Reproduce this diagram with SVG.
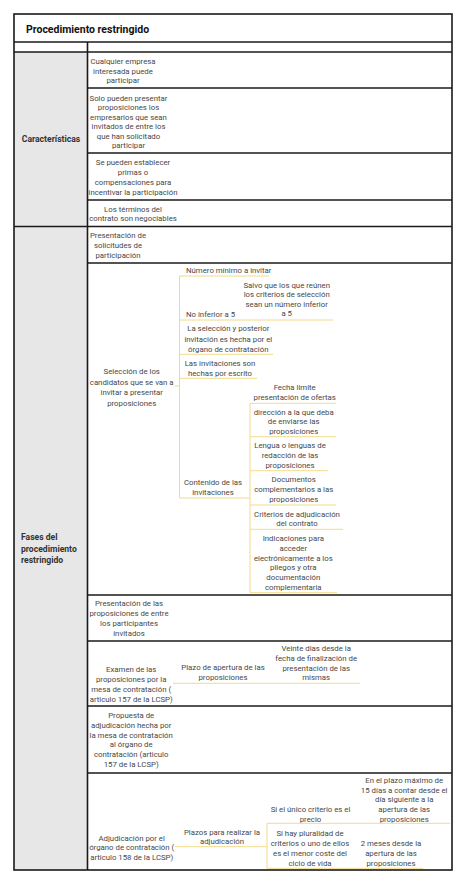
<svg xmlns="http://www.w3.org/2000/svg" width="474" height="893" viewBox="0 0 474 893">
<style>
.bg{fill:#ffffff}
.cell{fill:#e7e7e7}
.ln{stroke:#1a1a1a;stroke-width:1.6;fill:none}
.t{font-family:Roboto,"Liberation Sans",sans-serif;font-size:7.8px;fill:#474747}
.m{text-anchor:middle}
.h{font-family:Roboto,"Liberation Sans",sans-serif;font-size:10.5px;font-weight:bold;fill:#111111}
.b{font-family:Roboto,"Liberation Sans",sans-serif;font-size:8.6px;font-weight:bold;fill:#333333}
.c{stroke:#f3da8a;stroke-width:1;fill:none}
</style>
<rect class="bg" x="0" y="0" width="474" height="893"/>
<g id="table">
<rect class="cell" x="14" y="52" width="73.5" height="818"/>
<rect class="ln" x="14" y="14" width="438" height="856"/>
<line class="ln" x1="14" y1="42" x2="452" y2="42"/>
<line class="ln" x1="14" y1="52" x2="452" y2="52"/>
<line class="ln" x1="87.5" y1="42" x2="87.5" y2="870"/>
<line class="ln" x1="87.5" y1="88" x2="452" y2="88"/>
<line class="ln" x1="87.5" y1="153" x2="452" y2="153"/>
<line class="ln" x1="87.5" y1="200" x2="452" y2="200"/>
<line class="ln" x1="14" y1="226.5" x2="452" y2="226.5"/>
<line class="ln" x1="87.5" y1="263" x2="452" y2="263"/>
<line class="ln" x1="87.5" y1="595" x2="452" y2="595"/>
<line class="ln" x1="87.5" y1="641" x2="452" y2="641"/>
<line class="ln" x1="87.5" y1="706" x2="452" y2="706"/>
<line class="ln" x1="87.5" y1="773" x2="452" y2="773"/>
</g>
<g id="title"><text class="h" x="26" y="33">Procedimiento restringido</text></g>
<g id="caracteristicas"><text class="b m" x="51" y="142">Características</text></g>
<g id="fases"><text class="b" x="21" y="540">Fases del</text><text class="b" x="21" y="551.5">procedimiento</text><text class="b" x="21" y="563">restringido</text></g>
<g id="c1"><text class="t m" x="123" y="64">Cualquier empresa</text><text class="t m" x="123" y="73.7">interesada puede</text><text class="t m" x="123" y="83.4">participar</text></g>
<g id="c2"><text class="t m" x="128.5" y="100.5">Solo pueden presentar</text><text class="t m" x="128.5" y="110">proposiciones los</text><text class="t m" x="128.5" y="119.5">empresarios que sean</text><text class="t m" x="128.5" y="129">invitados de entre los</text><text class="t m" x="128.5" y="138.5">que han solicitado</text><text class="t m" x="128.5" y="148">participar</text></g>
<g id="c3"><text class="t m" x="133" y="165.3">Se pueden establecer</text><text class="t m" x="133" y="175.1">primas o</text><text class="t m" x="133" y="184.9">compensaciones para</text><text class="t m" x="133" y="194.7">incentivar la participación</text></g>
<g id="c4"><text class="t m" x="133" y="211.7">Los términos del</text><text class="t m" x="133" y="221">contrato son negociables</text></g>
<g id="f1"><text class="t m" x="118" y="238.3">Presentación de</text><text class="t m" x="118" y="248">solicitudes de</text><text class="t m" x="118" y="257.7">participación</text></g>
<g id="f2"><text class="t m" x="131.7" y="374">Selección de los</text><text class="t m" x="131.7" y="384.5">candidatos que se van a</text><text class="t m" x="131.7" y="395">invitar a presentar</text><text class="t m" x="131.7" y="405.5">proposiciones</text></g>
<g id="n-numero"><text class="t" x="186" y="273">Número mínimo a invitar</text></g>
<g id="n-noinferior"><text class="t" x="186" y="317.3">No inferior a 5</text></g>
<g id="n-salvo"><text class="t m" x="286.7" y="288">Salvo que los que reúnen</text><text class="t m" x="286.7" y="297.4">los criterios de selección</text><text class="t m" x="286.7" y="306.8">sean un número inferior</text><text class="t m" x="286.7" y="316.3">a 5</text></g>
<g id="n-seleccion"><text class="t m" x="228.3" y="331.3">La selección y posterior</text><text class="t m" x="228.3" y="341.8">invitación es hecha por el</text><text class="t m" x="228.3" y="352.3">órgano de contratación</text></g>
<g id="n-escrito"><text class="t m" x="220" y="366">Las invitaciones son</text><text class="t m" x="220" y="375.7">hechas por escrito</text></g>
<g id="n-contenido"><text class="t m" x="213" y="484.7">Contenido de las</text><text class="t m" x="213" y="494.7">invitaciones</text></g>
<g id="n-fecha"><text class="t m" x="294.7" y="389.7">Fecha limite</text><text class="t m" x="294.7" y="399.7">presentación de ofertas</text></g>
<g id="n-direccion"><text class="t m" x="293.7" y="414.7">dirección a la que deba</text><text class="t m" x="293.7" y="424.2">de enviarse las</text><text class="t m" x="293.7" y="433.7">proposiciones</text></g>
<g id="n-lengua"><text class="t m" x="290" y="448">Lengua o lenguas de</text><text class="t m" x="290" y="457.8">redacción de las</text><text class="t m" x="290" y="467.6">proposiciones</text></g>
<g id="n-documentos"><text class="t m" x="293.7" y="482">Documentos</text><text class="t m" x="293.7" y="492.1">complementarios a las</text><text class="t m" x="293.7" y="502.2">proposiciones</text></g>
<g id="n-criterios"><text class="t m" x="297" y="517">Criterios de adjudicación</text><text class="t m" x="297" y="526.4">del contrato</text></g>
<g id="n-indicaciones"><text class="t m" x="293.3" y="540.7">Indicaciones para</text><text class="t m" x="293.3" y="550.6">acceder</text><text class="t m" x="293.3" y="560.5">electrónicamente a los</text><text class="t m" x="293.3" y="570.4">pliegos y otra</text><text class="t m" x="293.3" y="580.3">documentación</text><text class="t m" x="293.3" y="590.2">complementaria</text></g>
<g id="f3"><text class="t m" x="129" y="606.3">Presentación de las</text><text class="t m" x="129" y="616.3">proposiciones de entre</text><text class="t m" x="129" y="626.3">los participantes</text><text class="t m" x="129" y="636.3">invitados</text></g>
<g id="f4"><text class="t m" x="131.2" y="671.7">Examen de las</text><text class="t m" x="131.2" y="681.7">proposiciones por la</text><text class="t m" x="131.2" y="691.7">mesa de contratación (</text><text class="t m" x="131.2" y="701.7">articulo 157 de la LCSP)</text></g>
<g id="n-plazo"><text class="t m" x="223" y="670.3">Plazo de apertura de las</text><text class="t m" x="223" y="680.3">proposiciones</text></g>
<g id="n-veinte"><text class="t m" x="316.2" y="651">Veinte dias desde la</text><text class="t m" x="316.2" y="660.8">fecha de finalización de</text><text class="t m" x="316.2" y="670.6">presentación de las</text><text class="t m" x="316.2" y="680.4">mismas</text></g>
<g id="f5"><text class="t m" x="131.2" y="718">Propuesta de</text><text class="t m" x="131.2" y="727.8">adjudicación hecha por</text><text class="t m" x="131.2" y="737.6">la mesa de contratación</text><text class="t m" x="131.2" y="747.4">al órgano de</text><text class="t m" x="131.2" y="757.2">contratación (articulo</text><text class="t m" x="131.2" y="767">157 de la LCSP)</text></g>
<g id="f6"><text class="t m" x="131.7" y="840.7">Adjudicación por el</text><text class="t m" x="131.7" y="850.3">órgano de contratación (</text><text class="t m" x="131.7" y="860">articulo 158 de la LCSP)</text></g>
<g id="n-plazos"><text class="t m" x="222" y="834.7">Plazos para realizar la</text><text class="t m" x="222" y="844.2">adjudicación</text></g>
<g id="n-unico"><text class="t m" x="310.5" y="812.3">Si el único criterio es el</text><text class="t m" x="310.5" y="822">precio</text></g>
<g id="n-plazomax"><text class="t m" x="404.2" y="783.2">En el plazo máximo de</text><text class="t m" x="404.2" y="792.8">15 días a contar desde el</text><text class="t m" x="404.2" y="802.4">día siguiente a la</text><text class="t m" x="404.2" y="812.1">apertura de las</text><text class="t m" x="404.2" y="821.8">proposiciones</text></g>
<g id="n-pluralidad"><text class="t m" x="310" y="836.3">Si hay pluralidad de</text><text class="t m" x="310" y="846.1">criterios o uno de ellos</text><text class="t m" x="310" y="855.9">es el menor coste del</text><text class="t m" x="310" y="865.7">ciclo de vida</text></g>
<g id="n-dosmeses"><text class="t m" x="391" y="846.3">2 meses desde la</text><text class="t m" x="391" y="856">apertura de las</text><text class="t m" x="391" y="865.7">proposiciones</text></g>
<g id="connectors">
<path class="c" d="M175 386H179.5M179.5 276V498"/>
<path class="c" d="M179.5 276H269M179.5 320H333M179.5 354.3H273M179.5 378.3H257M179.5 498H250"/>
<path class="c" d="M250 403.3V592.7M250 403.3H336M250 436.7H336M250 470.7H328M250 505H336M250 529.3H343M250 592.7H337"/>
<path class="c" d="M173 683.3H360"/>
<path class="c" d="M175 846.7H267M267 823.3V868.3M267 823.3H450M267 868.3H423"/>
</g>
</svg>
